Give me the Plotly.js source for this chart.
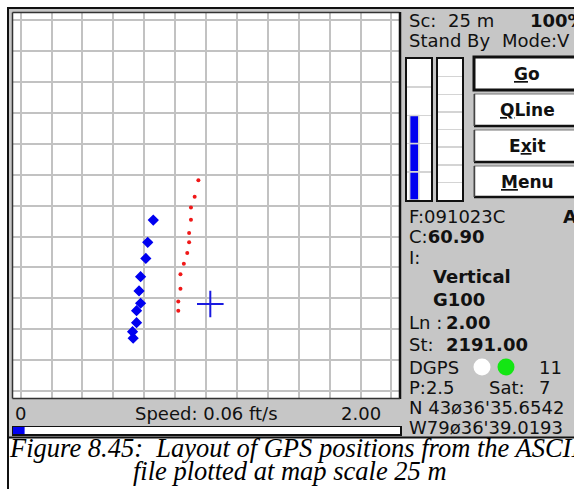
<!DOCTYPE html>
<html>
<head>
<meta charset="utf-8">
<script src="https://cdn.plot.ly/plotly-3.0.1.min.js"></script>
<style>html,body{margin:0;padding:0;background:#fff;}#chart{width:574px;height:489px;}</style>
</head>
<body>
<div id="chart"></div>
<script>
// ---- data (map units: one grid square) ----
const fixX = [4.29, 4.11, 4.05, 3.88, 3.83, 3.88, 3.75, 3.75, 3.62, 3.64];
const fixY = [5.53, 4.81, 4.29, 3.70, 3.24, 2.84, 2.60, 2.21, 1.92, 1.71];
const trackX = [5.75, 5.63, 5.51, 5.51, 5.45, 5.45, 5.39, 5.28, 5.17, 5.17, 5.10, 5.10];
const trackY = [6.82, 6.29, 5.94, 5.54, 5.11, 4.81, 4.47, 4.12, 3.78, 3.31, 2.90, 2.60];
const cursorX = [6.136];
const cursorY = [2.816];
const leftGaugeLevel = 3;   // of 5 segments
const rightGaugeLevel = 0;  // of 8 segments
const speedValue = 0.06;
const speedMax = 2.00;
const statusLines = ["F:091023C", "C:", "60.90", "I:", "Vertical", "G100", "Ln :", "2.00", "St:", "2191.00",
                     "DGPS", "11", "P:2.5", "Sat:", "7", "N 43ø36'35.6542", "W79ø36'39.0193"];
const buttonLabels = ["Go", "QLine", "Exit", "Menu"];
const buttonHot = [0, 0, 1, 0]; // index of underlined letter

const W = 574, H = 489;
const X = p => p / W;
const Y = p => 1 - p / H;

const DEV = "DejaVu Sans, Verdana, sans-serif";
const gridCol = "#c2c2c2";

const traces = [
  {x: fixX, y: fixY, type: "scatter", mode: "markers", xaxis: "x", yaxis: "y",
   marker: {symbol: "diamond", size: 7, color: "#0000f0", line: {color: "#0000f0", width: 1.5}}, hoverinfo: "skip"},
  {x: trackX, y: trackY, type: "scatter", mode: "markers", xaxis: "x", yaxis: "y",
   marker: {symbol: "circle", size: 4, color: "#f01818"}, hoverinfo: "skip"},
  {x: cursorX, y: cursorY, type: "scatter", mode: "markers", xaxis: "x", yaxis: "y",
   marker: {symbol: "cross-thin-open", size: 19, color: "#1a1ae0", line: {color: "#1a1ae0", width: 2}}, hoverinfo: "skip"}
];
// left gauge segments
const segX = [], segY = [], segB = [];
for (let i = 0; i < leftGaugeLevel; i++) { segX.push(0.3); segY.push(1); segB.push(i); }
traces.push({x: segX, y: segY, base: segB, type: "bar", width: 0.38, xaxis: "x2", yaxis: "y2",
  marker: {color: "#0000f0", line: {color: "#d4d4d4", width: 1.5}}, hoverinfo: "skip"});
traces.push({x: [0.5], y: [rightGaugeLevel], type: "bar", width: 0.4, xaxis: "x3", yaxis: "y3",
  marker: {color: "#0000f0"}, hoverinfo: "skip"});
traces.push({x: [speedValue], y: [0], type: "bar", orientation: "h", width: 1, xaxis: "x4", yaxis: "y4",
  marker: {color: "#0000f0"}, hoverinfo: "skip"});

const hidden = {showticklabels: false, ticks: "", zeroline: false, fixedrange: true};
const layout = {
  width: W, height: H, margin: {l: 0, r: 0, t: 0, b: 0},
  paper_bgcolor: "#c6c6c6", plot_bgcolor: "#ffffff", showlegend: false, barmode: "overlay",
  xaxis: Object.assign({domain: [X(13), X(399)], range: [-0.249, 12.243], dtick: 1, tick0: 0,
    showgrid: true, gridcolor: gridCol, gridwidth: 2, anchor: "y"}, hidden),
  yaxis: Object.assign({domain: [Y(398), Y(13)], range: [-0.2265, 12.233], dtick: 1, tick0: 0,
    showgrid: true, gridcolor: gridCol, gridwidth: 2, anchor: "x"}, hidden),
  xaxis2: Object.assign({domain: [X(407), X(431)], range: [0, 1], showgrid: false, anchor: "y2",
    showline: true, mirror: true, linecolor: "#111", linewidth: 2}, hidden),
  yaxis2: Object.assign({domain: [Y(200), Y(59)], range: [0, 5], dtick: 1, showgrid: true, gridcolor: "#d4d4d4",
    gridwidth: 1.5, anchor: "x2", showline: true, mirror: true, linecolor: "#111", linewidth: 2}, hidden),
  xaxis3: Object.assign({domain: [X(438), X(462)], range: [0, 1], showgrid: false, anchor: "y3",
    showline: true, mirror: true, linecolor: "#111", linewidth: 2}, hidden),
  yaxis3: Object.assign({domain: [Y(200), Y(59)], range: [0, 8], dtick: 1, showgrid: true, gridcolor: "#d4d4d4",
    gridwidth: 1.5, anchor: "x3", showline: true, mirror: true, linecolor: "#111", linewidth: 2}, hidden),
  xaxis4: Object.assign({domain: [X(13), X(400)], range: [0, speedMax], showgrid: false, anchor: "y4",
    showline: true, mirror: true, linecolor: "#111", linewidth: 1.5}, hidden),
  yaxis4: Object.assign({domain: [Y(434), Y(427)], range: [-0.5, 0.5], showgrid: false, anchor: "x4",
    showline: true, mirror: true, linecolor: "#111", linewidth: 1.5}, hidden),
  shapes: [], annotations: []
};

const S = layout.shapes, A = layout.annotations;
function rect(x0, y0, x1, y1, fill, lc, lw, layer) {
  S.push({type: "rect", xref: "paper", yref: "paper", x0: X(x0), x1: X(x1), y0: Y(y1), y1: Y(y0),
    fillcolor: fill, line: {color: lc, width: lw}, layer: layer || "above"});
}
function line(x0, y0, x1, y1, c, w) {
  S.push({type: "line", xref: "paper", yref: "paper", x0: X(x0), x1: X(x1), y0: Y(y0), y1: Y(y1),
    line: {color: c, width: w}, layer: "above"});
}
function txt(t, x, y, opts) {
  opts = opts || {};
  A.push({text: t, xref: "paper", yref: "paper", x: X(x), y: Y(y), xanchor: opts.xa || "left", yanchor: "middle",
    showarrow: false, font: {family: opts.fam || DEV, size: opts.size || 18, color: opts.color || "#111"}});
}

// white surroundings
rect(0, 0, 574, 7, "#ffffff", "rgba(0,0,0,0)", 0, "below");
rect(0, 0, 7, 489, "#ffffff", "rgba(0,0,0,0)", 0, "below");
rect(0, 437, 574, 489, "#ffffff", "rgba(0,0,0,0)", 0, "below");
// device border
line(7, 8, 574, 8, "#111", 2);
line(8, 7, 8, 489, "#111", 2);
line(7, 437.5, 574, 437.5, "#111", 2);
// map frame
line(12.5, 12.5, 399.5, 12.5, "#333", 1.5);
line(12.5, 12.5, 12.5, 398.5, "#333", 1.5);
line(400, 12, 400, 399, "#111", 2.5);
line(12.5, 398.5, 400, 398.5, "#333", 1.5);

// buttons
const btnTop = [57, 94, 130, 166], btnBot = [90, 126, 162, 197];
buttonLabels.forEach((b, i) => {
  if (i === 0) {
    rect(474, btnTop[i], 590, btnBot[i], "#ffffff", "#111", 3);
  } else {
    rect(474, btnTop[i], 590, btnBot[i], "#ffffff", "#777", 1);
    line(474, btnBot[i], 590, btnBot[i], "#111", 2.5);
    line(474.5, btnTop[i], 474.5, btnBot[i], "#444", 1.5);
  }
  const h = buttonHot[i];
  const label = b.slice(0, h) + '<span style="text-decoration:underline">' + b[h] + '</span>' + b.slice(h + 1);
  txt("<b>" + label + "</b>", 527, (btnTop[i] + btnBot[i]) / 2, {xa: "center", size: 17});
});

// header
txt("Sc:", 407, 20);
txt("25 m", 446, 20);
txt("<b>100%</b>", 528, 20);
txt("Stand By", 407, 40);
txt("Mode:V", 500, 40);

// status block
txt(statusLines[0], 407, 217);
txt("<b>A</b>", 561, 217);
txt(statusLines[1] + "<b>" + statusLines[2] + "</b>", 407, 236.5);
txt(statusLines[3], 407, 257);
txt("<b>" + statusLines[4] + "</b>", 431, 276);
txt("<b>" + statusLines[5] + "</b>", 431, 299);
txt(statusLines[6], 407, 322.5);
txt("<b>" + statusLines[7] + "</b>", 444, 322.5);
txt(statusLines[8], 407, 344);
txt("<b>" + statusLines[9] + "</b>", 444, 344);
txt(statusLines[10], 407, 367);
S.push({type: "circle", xref: "paper", yref: "paper", x0: X(473.5), x1: X(490.5), y0: Y(375.5), y1: Y(358.5),
  fillcolor: "#ffffff", line: {color: "#ffffff", width: 0}, layer: "above"});
S.push({type: "circle", xref: "paper", yref: "paper", x0: X(497.5), x1: X(514.5), y0: Y(375.5), y1: Y(358.5),
  fillcolor: "#14e614", line: {color: "#14e614", width: 0}, layer: "above"});
txt(statusLines[11], 537, 367);
txt(statusLines[12], 407, 387.5);
txt(statusLines[13], 487, 387.5);
txt(statusLines[14], 537, 387.5);
txt(statusLines[15], 407, 407);
txt(statusLines[16], 407, 427);

// speed strip
txt("0", 13, 413);
txt("Speed: 0.06 ft/s", 133, 413);
txt("2.00", 339, 413);

// caption
const SERIF = "Liberation Serif, Times New Roman, serif";
txt("<i>Figure 8.45:&nbsp; Layout of GPS positions from the ASCII</i>", 7, 448, {fam: SERIF, size: 26.5, color: "#000"});
txt("<i>file plotted at map scale 25 m</i>", 131, 471, {fam: SERIF, size: 26.5, color: "#000"});

Plotly.newPlot("chart", traces, layout, {staticPlot: true, displayModeBar: false});
</script>
</body>
</html>
